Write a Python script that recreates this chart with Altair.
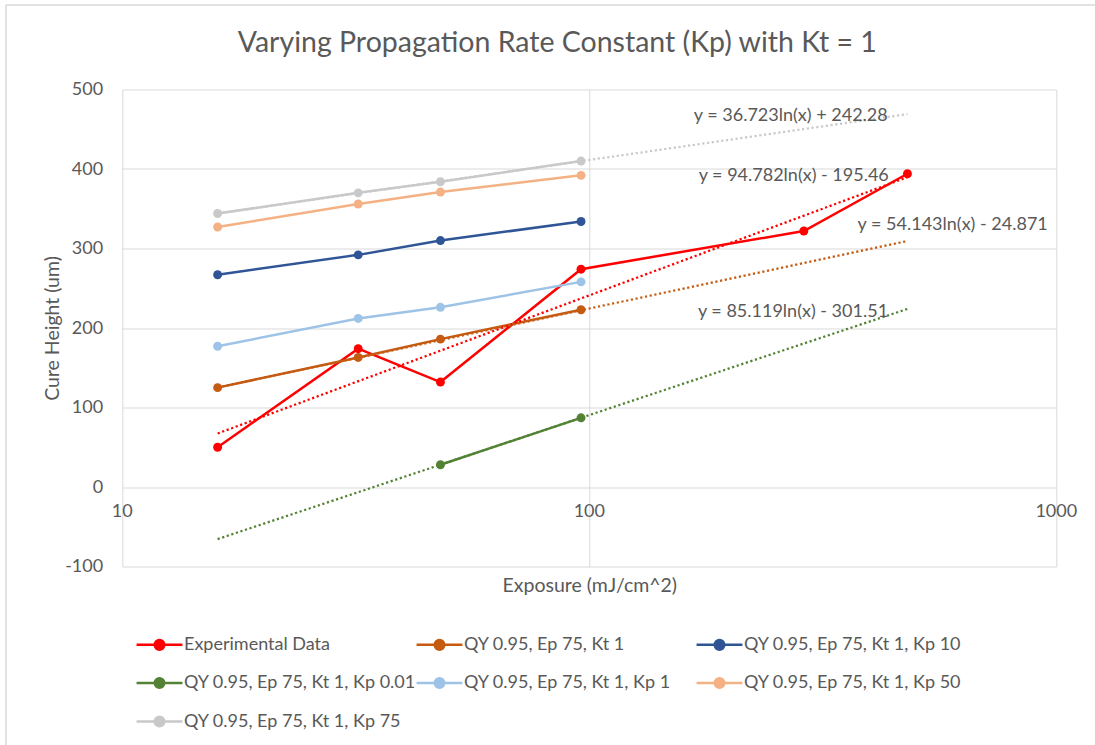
import math

import altair as alt
import pandas as pd

# ---- series definitions -------------------------------------------------
series_names = [
    "Experimental Data",
    "QY 0.95, Ep 75, Kt 1",
    "QY 0.95, Ep 75, Kt 1, Kp 10",
    "QY 0.95, Ep 75, Kt 1, Kp 0.01",
    "QY 0.95, Ep 75, Kt 1, Kp 1",
    "QY 0.95, Ep 75, Kt 1, Kp 50",
    "QY 0.95, Ep 75, Kt 1, Kp 75",
]
series_colors = ["#FF0000", "#C55A11", "#2F5597", "#548235", "#9DC3E6", "#F4B183", "#C9C9C9"]

# exposure (mJ/cm^2)
exposure_experimental = [16, 32, 48, 96, 288, 480]
exposure_model = [16, 32, 48, 96]
exposure_low_kp = [48, 96]

# cure height (um)
cure_experimental = [50, 174, 132, 274, 322, 394]
cure_kt1 = [125, 163, 186, 223]
cure_kp10 = [267, 292, 310, 334]
cure_kp001 = [28, 87]
cure_kp1 = [177, 212, 226, 258]
cure_kp50 = [327, 356, 371, 392]
cure_kp75 = [344, 370, 384, 410]

# logarithmic trendlines  y = slope * ln(x) + intercept
trend_series = [series_names[0], series_names[1], series_names[3], series_names[6]]
trend_slope = [94.782, 54.143, 85.119, 36.723]
trend_intercept = [-195.46, -24.871, -301.51, 242.28]
trend_extent = [16, 480]
trend_labels = [
    "y = 94.782ln(x) - 195.46",
    "y = 54.143ln(x) - 24.871",
    "y = 85.119ln(x) - 301.51",
    "y = 36.723ln(x) + 242.28",
]
label_x = [274, 600, 273, 270]
label_y = [391, 329, 220, 467]

x_ticks = [10, 100, 1000]
y_ticks = [-100, 0, 100, 200, 300, 400, 500]

# ---- tables -------------------------------------------------------------
series_x = [exposure_experimental, exposure_model, exposure_model, exposure_low_kp,
            exposure_model, exposure_model, exposure_model]
series_y = [cure_experimental, cure_kt1, cure_kp10, cure_kp001, cure_kp1, cure_kp50, cure_kp75]

rows = []
for order, (name, xs, ys) in enumerate(zip(series_names, series_x, series_y)):
    for x, y in zip(xs, ys):
        rows.append({"series": name, "order": order, "exposure": x, "cure": y})
points_df = pd.DataFrame(rows)

trend_rows = []
for name, a, b in zip(trend_series, trend_slope, trend_intercept):
    for x in trend_extent:
        trend_rows.append({"series": name, "exposure": x, "cure": a * math.log(x) + b})
trend_df = pd.DataFrame(trend_rows)

labels_df = pd.DataFrame({"exposure": label_x, "cure": label_y, "text": trend_labels})
xticks_df = pd.DataFrame({"exposure": x_ticks, "cure": [0] * len(x_ticks),
                          "text": [str(v) for v in x_ticks]})

# ---- styling --------------------------------------------------------------
FONT = "Lato"
TEXT = "#595959"
GRID = "#D9D9D9"

PLOT_W, PLOT_H = 934, 477
PAD_L, PAD_T = 122.3, 89.5

x_scale = alt.Scale(type="log", domain=[10, 1000], nice=False)
y_scale = alt.Scale(domain=[-100, 500], nice=False)
color_scale = alt.Scale(domain=series_names, range=series_colors)

# legend glyph: short line with a dot in the middle
SYMBOL = "M-1.53,0H1.53M-0.32,0A0.32,0.32,0,1,0,0.32,0A0.32,0.32,0,1,0,-0.32,0Z"
legend = alt.Legend(
    title=None, orient="none", direction="horizontal", legendX=20.7, legendY=538.5,
    columns=3, gridAlign="all", columnPadding=-5, rowPadding=11.5, padding=0,
    symbolType=SYMBOL, symbolSize=900, symbolStrokeWidth=2.5,
    labelOffset=8, labelFont=FONT, labelFontSize=18, labelColor=TEXT, labelLimit=400,
)

x_axis = alt.Axis(values=x_ticks, grid=True, labels=False, ticks=False, domain=False,
                  title="Exposure (mJ/cm^2)", titlePadding=10)
y_axis = alt.Axis(values=y_ticks, grid=True, ticks=False, domain=False, labelPadding=19.6,
                  labelExpr="datum.value + ''",
                  title="Cure Height (um)", titlePadding=2)

x_enc = alt.X("exposure:Q", scale=x_scale, axis=x_axis)
y_enc = alt.Y("cure:Q", scale=y_scale, axis=y_axis)
color_enc = alt.Color("series:N", scale=color_scale, sort=series_names, legend=legend)

# chart frame (left and top edges)
frame = alt.Chart(alt.Data(values=[{"k": 0}])).mark_rule(color=GRID, strokeWidth=1.5)
frame_left = frame.encode(x=alt.value(6 - PAD_L), y=alt.value(5 - PAD_T), y2=alt.value(745 - PAD_T))
frame_top = frame.encode(x=alt.value(6 - PAD_L), x2=alt.value(1095 - PAD_L), y=alt.value(5 - PAD_T))

lines = alt.Chart(points_df).mark_line(strokeWidth=2.5).encode(
    x=x_enc, y=y_enc, color=color_enc, order="exposure:Q"
)

trends = alt.Chart(trend_df).mark_line(strokeWidth=2.25, strokeDash=[2.2, 2.6]).encode(
    x=x_enc, y=y_enc, color=color_enc
)

dots = alt.Chart(points_df).mark_circle(size=80, opacity=1).encode(
    x=x_enc, y=y_enc, color=color_enc, order="order:Q"
)

eq_labels = alt.Chart(labels_df).mark_text(font=FONT, fontSize=18, color=TEXT).encode(
    x=x_enc, y=y_enc, text="text:N"
)

x_labels = alt.Chart(xticks_df).mark_text(font=FONT, fontSize=18, color=TEXT, dy=25).encode(
    x=x_enc, y=y_enc, text="text:N"
)

chart = (
    alt.layer(lines, trends, dots, eq_labels, x_labels, frame_left, frame_top)
    .properties(
        width=PLOT_W,
        height=PLOT_H,
        padding={"left": PAD_L, "top": PAD_T, "right": 1095 - PAD_L - PLOT_W,
                 "bottom": 745 - PAD_T - PLOT_H},
        autosize=alt.AutoSizeParams(type="none"),
        title=alt.TitleParams(
            text="Varying Propagation Rate Constant (Kp) with Kt = 1",
            font=FONT, fontSize=28.5, fontWeight="normal", color=TEXT,
            anchor="middle", frame="group", baseline="alphabetic", offset=-76, dx=-32,
        ),
    )
    .configure_view(stroke=None)
    .configure_axis(
        gridColor=GRID, gridWidth=1,
        labelFont=FONT, labelFontSize=18, labelColor=TEXT,
        titleFont=FONT, titleFontSize=19.5, titleFontWeight="normal", titleColor=TEXT,
    )
)

chart.save("out.html", embed_options={"renderer": "svg", "actions": False})
